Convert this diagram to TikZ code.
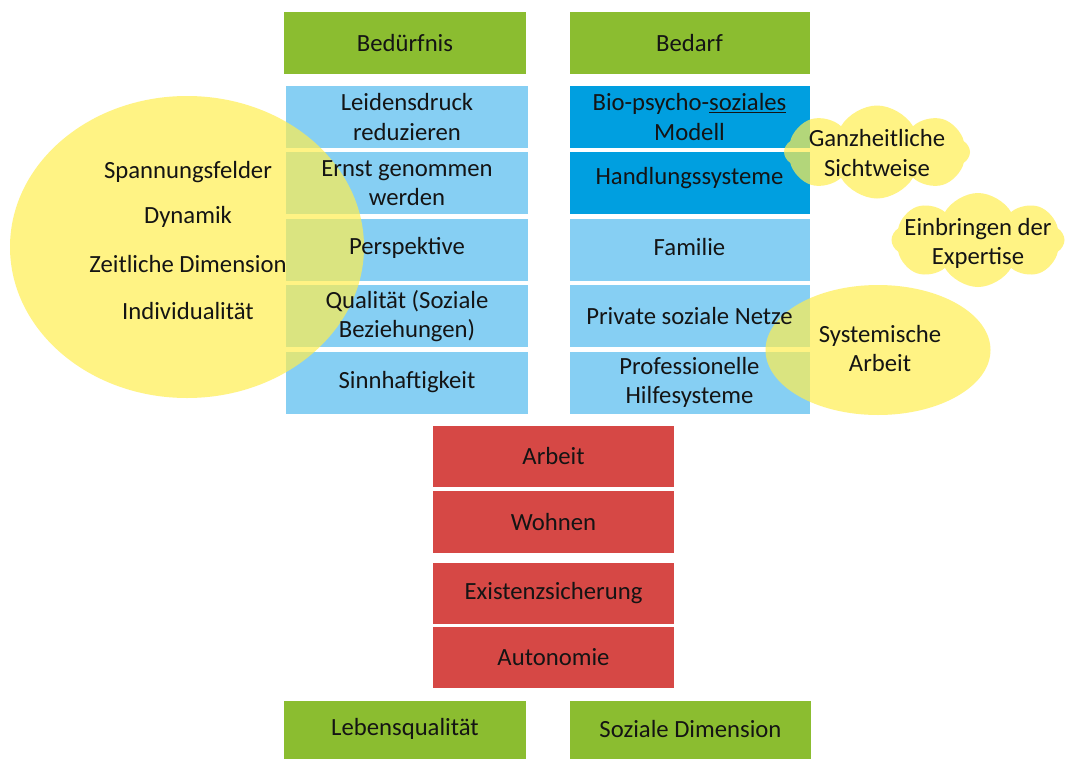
\documentclass[tikz,border=0pt]{standalone}
\usepackage{fontspec}
\setmainfont{Carlito}
\usetikzlibrary{shapes.symbols,shapes.geometric}
\pgfdeclarelayer{bg}
\pgfdeclarelayer{fg}
\pgfsetlayers{bg,main,fg}
\definecolor{grn}{RGB}{139,189,48}
\definecolor{lblue}{RGB}{134,207,243}
\definecolor{dblue}{RGB}{0,159,224}
\definecolor{redc}{RGB}{214,72,69}
\definecolor{yel}{RGB}{255,238,80}
\definecolor{txtc}{RGB}{20,20,20}
\begin{document}
\begin{tikzpicture}[x=1pt,y=-1pt,
  box/.style={minimum width=241pt, minimum height=62pt, inner sep=0pt, outer sep=0pt, draw=none},
  txt/.style={align=center, font=\fontsize{24.7}{29.5}\selectfont, text=txtc, inner sep=0pt},
  blob/.style={fill=yel, fill opacity=0.7, draw=none, inner sep=0pt},
  puffy/.style={blob, cloud, cloud puffs=8, cloud puff arc=120, cloud ignores aspect}]
\useasboundingbox (0,0) rectangle (1071,758);
\begin{pgfonlayer}{bg}
\fill[white] (0,0) rectangle (1071,758);
\node[box, fill=grn, minimum width=242pt] (bed) at (405,43) {};
\node[box, fill=grn, minimum width=240pt] (bedarf) at (689.5,43) {};
\node[box, fill=lblue, minimum width=242pt] (l1) at (407,117) {};
\node[box, fill=lblue, minimum width=242pt] (l2) at (407,183) {};
\node[box, fill=lblue, minimum width=242pt] (l3) at (407,249.5) {};
\node[box, fill=lblue, minimum width=242pt] (l4) at (407,316) {};
\node[box, fill=lblue, minimum width=242pt] (l5) at (407,382.5) {};
\node[box, fill=dblue, minimum width=240pt] (r1) at (689.5,117) {};
\node[box, fill=dblue, minimum width=240pt] (r2) at (689.5,183) {};
\node[box, fill=lblue, minimum width=240pt] (r3) at (689.5,249.5) {};
\node[box, fill=lblue, minimum width=240pt] (r4) at (689.5,316) {};
\node[box, fill=lblue, minimum width=240pt] (r5) at (689.5,382.5) {};
\node[box, fill=redc, minimum height=61pt] (a1) at (553.5,456.5) {};
\node[box, fill=redc] (a2) at (553.5,522) {};
\node[box, fill=redc, minimum height=61pt] (a3) at (553.5,593.5) {};
\node[box, fill=redc, minimum height=61pt] (a4) at (553.5,657.5) {};
\node[box, fill=grn, minimum width=242pt] (lq) at (405,732) {};
\node[box, fill=grn, minimum width=241pt] (sd) at (690.5,732) {};
\end{pgfonlayer}
% yellow shapes
\node[blob, ellipse, minimum width=354pt, minimum height=302pt] (ell) at (187,247) {};
\node[blob, ellipse, minimum width=225pt, minimum height=130pt] (sys) at (878,350) {};
\node[puffy, minimum width=186pt, minimum height=93pt] (c1) at (877,152) {};
\node[puffy, minimum width=173pt, minimum height=94pt] (c2) at (978,240) {};
\begin{pgfonlayer}{fg}
\node[txt] (tbed) at (bed) {Bedürfnis};
\node[txt] (tbedarf) at (bedarf) {Bedarf};
\node[txt] (tl1) at (l1) {Leidensdruck\\reduzieren};
\node[txt] (tl2) at (l2) {Ernst genommen\\werden};
\node[txt] (tl3) at ([yshift=2pt]l3.center) {Perspektive};
\node[txt] (tl4) at (l4) {Qualität (Soziale\\Beziehungen)};
\node[txt] (tl5) at (l5) {Sinnhaftigkeit};
\node[txt] (tr1) at (r1) {Bio-psycho-\underline{soziales}\\Modell};
\node[txt] (tr2) at ([yshift=5pt]r2.center) {Handlungssysteme};
\node[txt] (tr3) at ([yshift=2pt]r3.center) {Familie};
\node[txt] (tr4) at (r4) {Private soziale Netze};
\node[txt] (tr5) at (r5) {Professionelle\\Hilfesysteme};
\node[txt] (ta1) at (a1) {Arbeit};
\node[txt] (ta2) at (a2) {Wohnen};
\node[txt] (ta3) at (a3) {Existenzsicherung};
\node[txt] (ta4) at (a4) {Autonomie};
\node[txt] (tlq) at ([yshift=3pt]lq.center) {Lebensqualität};
\node[txt] (tsd) at ([yshift=3pt]sd.center) {Soziale Dimension};
\node[txt] (e1) at (188,172) {Spannungsfelder};
\node[txt] (e2) at (188,217) {Dynamik};
\node[txt] (e3) at (188,264) {Zeitliche Dimension};
\node[txt] (e4) at (188,311) {Individualität};
\node[txt] (tsys) at (880,348.5) {Systemische\\Arbeit};
\node[txt] (tc1) at (877,153) {Ganzheitliche\\Sichtweise};
\node[txt] (tc2) at (978,243.5) {Einbringen der\\Expertise};
\end{pgfonlayer}
\end{tikzpicture}
\end{document}
